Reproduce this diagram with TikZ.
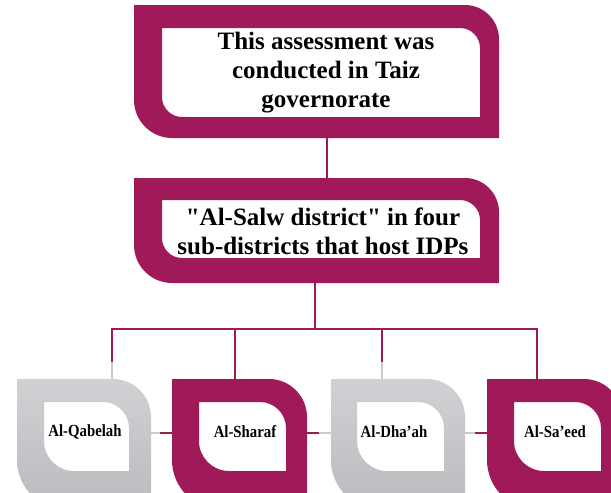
\documentclass[tikz,border=0pt]{standalone}
\usepackage{fontspec}
\setmainfont{Liberation Serif}
\newfontfamily\labfont[FakeStretch=0.87]{Liberation Serif}
\newcommand\sq{\XeTeXglyph\XeTeXcharglyph"22\relax}
\definecolor{crim}{RGB}{160,26,90}
\definecolor{lgreyA}{RGB}{208,209,211}
\definecolor{lgreyB}{RGB}{186,187,190}
\definecolor{cgrey}{RGB}{200,202,207}
% #1,#2 top-left  #3,#4 bottom-right  #5 radius top-right  #6 radius bottom-left
\newcommand\leafpath[6]{(#1,#2) -- ({#3-#5},#2) .. controls ({#3-0.45*#5},#2) and (#3,{#2+0.45*#5}) .. (#3,{#2+#5}) -- (#3,#4) -- ({#1+#6},#4) .. controls ({#1+0.45*#6},#4) and (#1,{#4-0.45*#6}) .. (#1,{#4-#6}) -- cycle}
\begin{document}
\begin{tikzpicture}[x=1pt,y=-1pt,
  cframe/.style={fill=crim,even odd rule},
  gframe/.style={top color=lgreyA,bottom color=lgreyB,even odd rule},
  hold/.style={inner sep=0pt,outer sep=0pt},
  ttext/.style={align=center,inner sep=0pt,font=\fontsize{25}{29}\selectfont\bfseries},
  lab/.style={inner sep=0pt,font=\labfont\bfseries\fontsize{17}{20}\selectfont},
  conn/.style={draw=crim,line width=2.8pt},
  hconn/.style={draw=crim,line width=2.2pt},
  gconn/.style={draw=cgrey,line width=2.8pt},
  ghconn/.style={draw=cgrey,line width=2.2pt}]
\useasboundingbox (0,0) rectangle (611,493);
\clip (0,0) rectangle (611,493);
\fill[white] (0,0) rectangle (611,493);

% frames
\fill[cframe] \leafpath{134}{5}{499}{138}{34}{38} \leafpath{162}{28}{480}{117}{20}{20};
\fill[cframe] \leafpath{134}{178}{499}{283}{34}{38} \leafpath{162}{200}{480}{258}{20}{20};
\shade[gframe] \leafpath{17}{379}{151}{510}{38}{50} \leafpath{44}{402}{129}{471}{26}{30};
\fill[cframe] \leafpath{172}{379}{307}{510}{38}{50} \leafpath{199}{402}{286}{471}{26}{30};
\shade[gframe] \leafpath{331}{379}{465}{510}{38}{50} \leafpath{357}{402}{444}{471}{26}{30};
\fill[cframe] \leafpath{487}{379}{622}{510}{38}{50} \leafpath{514}{402}{601}{471}{26}{30};

% holder nodes over the frames
\node[hold,minimum width=365pt,minimum height=133pt] (b0) at (316.5,71.5) {};
\node[hold,minimum width=365pt,minimum height=105pt] (b1) at (316.5,230.5) {};
\node[hold,minimum width=134pt,minimum height=131pt] (q1) at (84,444.5) {};
\node[hold,minimum width=135pt,minimum height=131pt] (q2) at (239.5,444.5) {};
\node[hold,minimum width=134pt,minimum height=131pt] (q3) at (398,444.5) {};
\node[hold,minimum width=135pt,minimum height=131pt] (q4) at (554.5,444.5) {};

% texts
\node[ttext] (t0) at (326,73) {This assessment was\\conducted in Taiz\\governorate};
\node[ttext] (t1) at (323,231) {\sq Al-Salw district\sq{} in four\\sub-districts that host IDPs};
\node[lab] (l1) at (85,432) {Al-Qabelah};
\node[lab] (l2) at (245,432) {Al-Sharaf};
\node[lab] (l3) at (394,432) {Al-Dha’ah};
\node[lab] (l4) at (555,432) {Al-Sa’eed};

% connector coordinates
\coordinate (c0) at (327,0);
\coordinate (bus) at (315,329);
\coordinate (d1) at (112,362);
\coordinate (d2) at (235,0);
\coordinate (d3) at (382,362);
\coordinate (d4) at (537,0);
\coordinate (h) at (0,433);
\coordinate (m1) at (160,433);
\coordinate (m2) at (319,433);
\coordinate (m3) at (475,433);

% connectors
\draw[conn] (b0.south -| c0) -- (b1.north -| c0);
\draw[conn] (b1.south -| bus) -- (bus);
\draw[conn] (d1) -- (d1 |- bus) -- (bus -| d4) -- (q4.north -| d4);
\draw[gconn] (d1) -- (q1.north -| d1);
\draw[conn] (bus -| d2) -- (q2.north -| d2);
\draw[conn] (bus -| d3) -- (d3);
\draw[gconn] (d3) -- (q3.north -| d3);
\draw[ghconn] (q1.east |- h) -- (m1);
\draw[hconn] (m1) -- (q2.west |- h);
\draw[hconn] (q2.east |- h) -- (m2);
\draw[ghconn] (m2) -- (q3.west |- h);
\draw[ghconn] (q3.east |- h) -- (m3);
\draw[hconn] (m3) -- (q4.west |- h);
\end{tikzpicture}
\end{document}
